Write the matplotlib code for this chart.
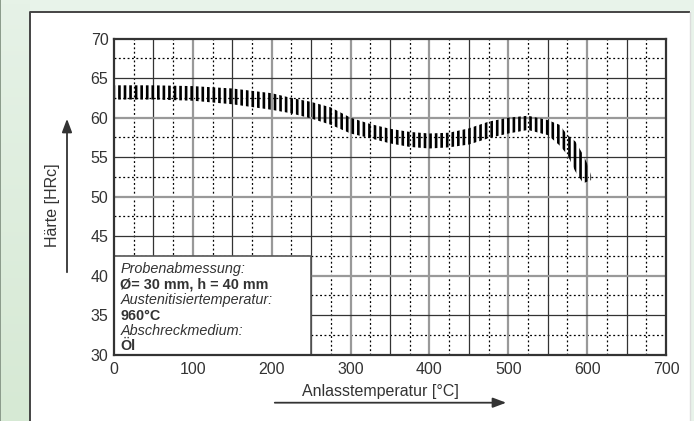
import numpy as np
import matplotlib
matplotlib.use("Agg")
import matplotlib.pyplot as plt
from matplotlib.patches import Rectangle

plt.rcParams["font.family"] = ["Liberation Sans", "DejaVu Sans"]
plt.rcParams["hatch.linewidth"] = 1.9
plt.rcParams["hatch.color"] = "black"

# Härte-Streuband (oben / unten) über der Anlasstemperatur
temp = [0, 50, 100, 150, 200, 225, 250, 275, 300, 325, 350, 375, 400, 425, 450,
        475, 500, 525, 550, 565, 575, 585, 595, 600, 605]
hrc_upper = [64.1, 64.1, 64.0, 63.7, 63.1, 62.5, 62.0, 61.3, 60.0, 59.2, 58.6, 58.2, 58.0, 58.1, 58.65,
             59.5, 60.0, 60.25, 59.7, 59.1, 57.8, 57.0, 55.3, 54.2, 52.7]
hrc_lower = [62.3, 62.3, 62.15, 61.7, 61.0, 60.55, 59.9, 59.1, 58.0, 57.4, 56.75, 56.3, 56.1, 56.25, 56.6,
             57.4, 58.0, 58.45, 57.8, 56.5, 55.3, 53.2, 51.7, 51.9, 52.1]

x_ticks = [0, 100, 200, 300, 400, 500, 600, 700]
y_ticks = [30, 35, 40, 45, 50, 55, 60, 65, 70]

info_lines = [
    ("Probenabmessung:", "italic", "normal"),
    ("Ø= 30 mm, h = 40 mm", "normal", "bold"),
    ("Austenitisiertemperatur:", "italic", "normal"),
    ("960°C", "normal", "bold"),
    ("Abschreckmedium:", "italic", "normal"),
    ("Öl", "normal", "bold"),
]

W, H = 694, 421
TXT = "#333333"
fig = plt.figure(figsize=(W / 100, H / 100), dpi=100, facecolor="#e8f3ea")

# --- background: green frame + white panel (pixel coords) ---
bg = fig.add_axes([0, 0, 1, 1], zorder=-1)
bg.set_xlim(0, W)
bg.set_ylim(H, 0)
bg.axis("off")
grad = np.linspace(0, 1, 100)[:, None]
bg.imshow(grad, cmap=matplotlib.colors.LinearSegmentedColormap.from_list(
    "g", ["#e6f2e7", "#d6e9d4"]), extent=[1.5, 30, H, 0], aspect="auto")
bg.add_patch(Rectangle((0, 0), 1.5, H, color="#8c9c8c", lw=0))
bg.add_patch(Rectangle((30, 11), 661, H, facecolor="white", lw=0))
bg.plot([30.5, 30.5, 690], [H, 11.5, 11.5], color="#444444", lw=1.4, solid_capstyle="butt")
bg.plot([690.5, 690.5], [12, H], color="#dcdcdc", lw=1.0)

# axis labels with arrows
bg.text(53, 205, "Härte [HRc]", rotation=90, ha="center", va="center", fontsize=11.5, color=TXT)
bg.annotate("", xy=(67, 116), xytext=(67, 275),
            arrowprops=dict(arrowstyle="-|>,head_length=0.8,head_width=0.3", color="#333333", lw=1.3))
bg.text(380, 396, "Anlasstemperatur [°C]", ha="center", va="baseline", fontsize=11.5, color=TXT)
bg.annotate("", xy=(509, 402.7), xytext=(272, 402.7),
            arrowprops=dict(arrowstyle="-|>,head_length=0.8,head_width=0.3", color="#333333", lw=1.3))

# --- main chart ---
ax = fig.add_axes([114 / W, 1 - 354.7 / H, 552 / W, 316 / H], zorder=1)
ax.set_xlim(0, 700)
ax.set_ylim(30, 70)

# grid: dotted every 25 / 2.5, dark every 50 / 5, grey every 100 / 10
for v in np.arange(25, 700, 50):
    ax.axvline(v, color="black", lw=0.9, ls=(0, (1.5, 2)), zorder=1)
for v in np.arange(32.5, 70, 5):
    ax.axhline(v, color="black", lw=0.9, ls=(0, (1.5, 2)), zorder=1)
for v in range(50, 700, 50):
    if v % 100:
        ax.axvline(v, color="#333333", lw=0.9, zorder=2)
    else:
        ax.axvline(v, color="#999999", lw=1.6, zorder=2)
for v in range(35, 70, 5):
    if v % 10:
        ax.axhline(v, color="#333333", lw=0.9, zorder=2)
    else:
        ax.axhline(v, color="#999999", lw=1.6, zorder=2)

ax.fill_between(temp, hrc_lower, hrc_upper, facecolor="none", edgecolor="black",
                hatch="|||", linewidth=0, zorder=3)

ax.add_patch(Rectangle((0, 30), 250, 12.5, facecolor="white", edgecolor="#555555", lw=1.2, zorder=4))
for i, (s, style, weight) in enumerate(info_lines):
    ax.text(120.5, 273 + i * 15.5, s, transform=bg.transData, fontsize=10.4, fontstyle=style,
            fontweight=weight, color=TXT, va="baseline", ha="left", zorder=5)

ax.set_xticks(x_ticks)
ax.set_yticks(y_ticks)
ax.tick_params(length=0, labelsize=11.5, labelcolor=TXT)
ax.tick_params(axis="x", pad=5)
ax.tick_params(axis="y", pad=4)
for sp in ax.spines.values():
    sp.set_color("#333333")
    sp.set_linewidth(1.6)
    sp.set_zorder(6)

fig.savefig("out.png", dpi=100, facecolor=fig.get_facecolor())
